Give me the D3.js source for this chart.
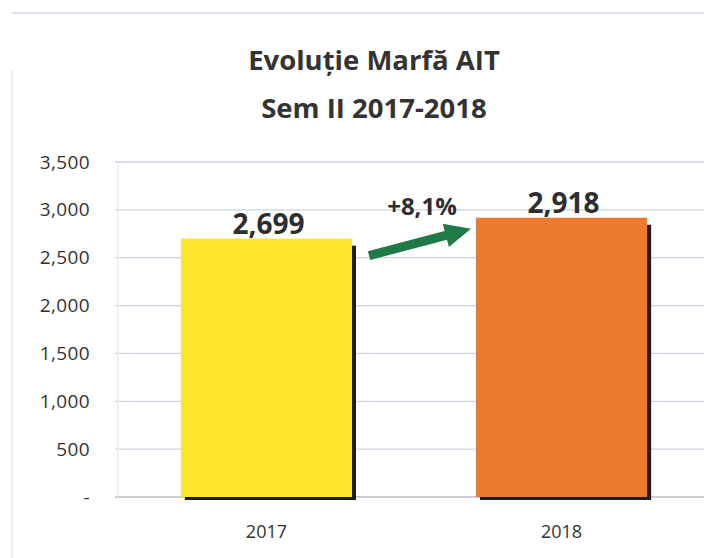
<!DOCTYPE html>
<html lang="ro">
<head>
    <meta charset="UTF-8">
    <title>Evoluție Marfă AIT</title>
    <style>
        html, body {
            margin: 0;
            background: #fff;
            overflow: hidden;
        }

        svg {
            display: block;
        }

        text {
            font-family: "Open Sans", sans-serif;
        }
    </style>
</head>

<body>
    <svg id="chart"></svg>
</body>

<script src="https://cdn.jsdelivr.net/npm/d3@7/dist/d3.min.js"></script>

<script>
    let years = ["2017", "2018"]
    let values = [2699, 2918]
    let colors = ["#fde52a", "#ec7b2f"]
    let yTicks = [0, 500, 1000, 1500, 2000, 2500, 3000, 3500]
    let titleLines = ["Evoluție Marfă AIT", "Sem II 2017-2018"]
    let growthLabel = "+8,1%"

    let width = 704;
    let height = 558;

    let svg = d3.select("#chart")
        .attr("width", width)
        .attr("height", height)

    let margin = { left: 118, right: -6, top: 162, bottom: 61 }

    // faint outer frame of the chart area (top and left edges only)
    svg.append("line")
        .attr("x1", 12).attr("x2", width)
        .attr("y1", 13).attr("y2", 13)
        .attr("stroke", "#d6dae4")
        .attr("stroke-width", 1.5)

    svg.append("line")
        .attr("x1", 12).attr("x2", 12)
        .attr("y1", 70).attr("y2", height)
        .attr("stroke", "#dfe2e8")
        .attr("stroke-width", 1.2)

    svg.selectAll(".title")
        .data(titleLines)
        .enter()
        .append("text")
        .attr("class", "title")
        .attr("x", 374)
        .attr("y", (d, i) => 70 + i * 48)
        .attr("text-anchor", "middle")
        .attr("font-size", 27.5)
        .attr("font-weight", "bold")
        .attr("fill", "#333")
        .text(d => d)

    let xScale = d3.scaleBand()
        .range([margin.left, width - margin.right])
        .domain(years)
        .paddingInner(0.42)
        .paddingOuter(0.213)

    let yScale = d3.scaleLinear()
        .range([height - margin.bottom, margin.top])
        .domain([0, 3500])

    // gridlines
    svg.append("g")
        .selectAll("line")
        .data(yTicks)
        .enter()
        .append("line")
        .attr("x1", margin.left - 3)
        .attr("x2", width)
        .attr("y1", d => yScale(d))
        .attr("y2", d => yScale(d))
        .attr("stroke", d => d === 0 ? "#b8bcc6" : "#ccd4e2")
        .attr("stroke-width", 1.3)

    svg.append("line")
        .attr("x1", margin.left).attr("x2", margin.left)
        .attr("y1", yScale(3500)).attr("y2", yScale(0))
        .attr("stroke", "#dde2ea")

    // y axis labels
    let yAxis = d3.axisLeft(yScale)
        .tickValues(yTicks)
        .tickSize(0)
        .tickPadding(28)
        .tickFormat(d => d === 0 ? "-" : d3.format(",")(d))

    svg.append("g")
        .attr("transform", `translate(${margin.left},0)`)
        .call(yAxis)
        .call(g => g.select(".domain").remove())
        .selectAll("text")
        .attr("font-family", "Open Sans")
        .attr("font-size", 19)
        .attr("letter-spacing", 0.4)
        .attr("fill", "#333")

    // x axis labels
    let xAxis = d3.axisBottom(xScale).tickSize(0).tickPadding(28)

    svg.append("g")
        .attr("transform", `translate(0,${yScale(0)})`)
        .call(xAxis)
        .call(g => g.select(".domain").remove())
        .selectAll("text")
        .attr("font-family", "Open Sans")
        .attr("font-size", 18)
        .attr("fill", "#333")

    let bars = years.map((y, i) => ({ year: y, value: values[i], color: colors[i] }))

    // dark shadow behind each bar
    svg.append("g")
        .selectAll("rect")
        .data(bars)
        .enter()
        .append("rect")
        .attr("x", d => xScale(d.year) + 4)
        .attr("y", d => yScale(d.value) + 7)
        .attr("width", xScale.bandwidth())
        .attr("height", d => yScale(0) - yScale(d.value) - 4)
        .attr("fill", "#1e1e1e")

    svg.append("g")
        .selectAll("rect")
        .data(bars)
        .enter()
        .append("rect")
        .attr("x", d => xScale(d.year))
        .attr("y", d => yScale(d.value))
        .attr("width", xScale.bandwidth())
        .attr("height", d => yScale(0) - yScale(d.value))
        .attr("fill", d => d.color)

    svg.append("g")
        .selectAll("text")
        .data(bars)
        .enter()
        .append("text")
        .attr("x", d => xScale(d.year) + xScale.bandwidth() / 2 + 2)
        .attr("y", d => yScale(d.value) - 5)
        .attr("text-anchor", "middle")
        .attr("font-size", 28)
        .attr("font-weight", "bold")
        .attr("fill", "#2e2e2e")
        .text(d => d3.format(",")(d.value))

    // growth arrow between the bars
    let tailX = xScale("2017") + xScale.bandwidth() + 17
    let tipX = xScale("2018") - 5
    let tailY = yScale(values[0]) + 17
    let tipY = yScale(values[1]) + 11

    let ang = Math.atan2(tipY - tailY, tipX - tailX)
    let headLen = 26, headW = 12, shaft = 4.5
    let ux = Math.cos(ang), uy = Math.sin(ang)
    let nx = -uy, ny = ux
    let bx = tipX - ux * headLen, by = tipY - uy * headLen
    let pts = [
        [tailX + nx * shaft, tailY + ny * shaft],
        [bx + nx * shaft, by + ny * shaft],
        [bx + nx * headW, by + ny * headW],
        [tipX, tipY],
        [bx - nx * headW, by - ny * headW],
        [bx - nx * shaft, by - ny * shaft],
        [tailX - nx * shaft, tailY - ny * shaft]
    ]

    svg.append("path")
        .attr("d", d3.line()(pts) + "Z")
        .attr("fill", "#1f7a47")

    svg.append("text")
        .attr("x", (tailX + tipX) / 2 + 2)
        .attr("y", yScale(values[1]) - 3)
        .attr("text-anchor", "middle")
        .attr("font-size", 24)
        .attr("font-weight", "bold")
        .attr("fill", "#2e2e2e")
        .text(growthLabel)
</script>

</html>
